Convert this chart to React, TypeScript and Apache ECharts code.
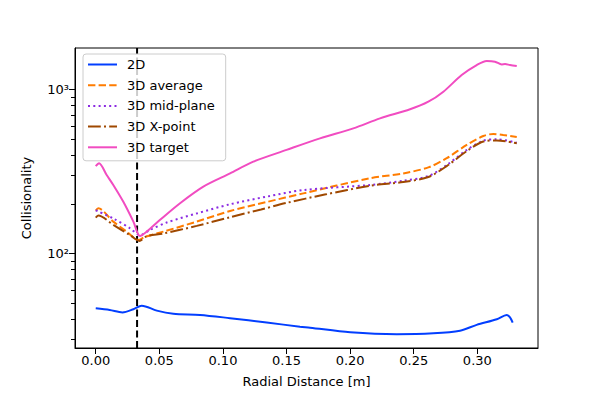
import React, { useEffect, useRef } from "react";
import * as echarts from "echarts";

// ---- data ----
const x2D = [0, 0.011, 0.021, 0.0296, 0.0362, 0.048, 0.061, 0.082, 0.1056, 0.1344, 0.1606, 0.1685, 0.2, 0.2366, 0.2654, 0.2864, 0.2995, 0.3153, 0.3231, 0.3257, 0.3278];
const y2D = [46.2, 45.1, 43.6, 45.6, 47.9, 44.7, 42.8, 42.1, 40.2, 37.8, 35.7, 35.2, 33.0, 32.1, 32.5, 33.7, 36.6, 39.6, 42.1, 40.7, 37.8];

const xAvg = [0, 0.002, 0.0138, 0.0244, 0.0335, 0.0388, 0.0531, 0.0794, 0.1056, 0.135, 0.1632, 0.2157, 0.2418, 0.2615, 0.2759, 0.2917, 0.3047, 0.3126, 0.3204, 0.331];
const yAvg = [182, 188, 156, 135.5, 120.5, 126, 135.5, 156, 181, 206, 232, 287, 307, 334, 380, 458, 519, 534, 526, 512];

const xMid = [0, 0.0138, 0.027, 0.0348, 0.0427, 0.0558, 0.0794, 0.1056, 0.135, 0.1632, 0.2157, 0.2418, 0.2615, 0.2759, 0.2917, 0.3047, 0.3153, 0.331];
const yMid = [183, 163, 142, 129, 139, 154, 175, 199, 222, 243, 261, 277, 296, 345, 427, 486, 496, 472];

const xXpt = [0, 0.002, 0.0138, 0.027, 0.0343, 0.04, 0.0531, 0.0794, 0.1056, 0.13, 0.15, 0.18, 0.2157, 0.2418, 0.2615, 0.2759, 0.2917, 0.3047, 0.3153, 0.331];
const yXpt = [165, 170, 149, 129, 119, 127, 132, 147, 166, 185, 203, 228, 258, 272, 292, 340, 420, 480, 488, 468];

const xTgt = [0, 0.0026, 0.0086, 0.0138, 0.0217, 0.0296, 0.0348, 0.04, 0.0506, 0.0663, 0.0846, 0.1056, 0.1239, 0.15, 0.1763, 0.2025, 0.2235, 0.2471, 0.2615, 0.2733, 0.2877, 0.2995, 0.3074, 0.3139, 0.3192, 0.3218, 0.3257, 0.331];
const yTgt = [340, 354, 300, 261, 206, 156, 127.5, 135.5, 160, 202, 255, 307, 362, 427, 502, 578, 665, 755, 840, 967, 1222, 1406, 1488, 1474, 1419, 1425, 1406, 1387];

const X_SEPARATRIX = 0.0325;

const X_TICKS = [0, 0.05, 0.1, 0.15, 0.2, 0.25, 0.3];
const Y_MAJOR = [100, 1000];
const Y_MINOR = [30, 40, 50, 60, 70, 80, 90, 200, 300, 400, 500, 600, 700, 800, 900];
const X_MIN = -0.0163;
const X_MAX = 0.3477;
const Y_MIN = 26.45;
const Y_MAX = 1786;

const NAMES = ["2D", "3D average", "3D mid-plane", "3D X-point", "3D target"];
const COLORS = ["#023eff", "#ff7c00", "#8b2be2", "#9f4800", "#f14cc1"];
const DASHES: any[] = ["solid", [7.4, 3.2], [2, 3.3], [12.8, 3.2, 2, 3.2], "solid"];

const FONT = "DejaVu Sans";
const L = (v: number) => Math.log10(v);
const SUP: Record<number, string> = { 2: "²", 3: "³" };

export default function App() {
  const ref = useRef<HTMLDivElement>(null);
  useEffect(() => {
    if (!ref.current) return;
    const chart = echarts.init(ref.current, undefined, { renderer: "svg" });
    const xs = [x2D, xAvg, xMid, xXpt, xTgt];
    const ys = [y2D, yAvg, yMid, yXpt, yTgt];
    const series: any[] = NAMES.map((name, i) => ({
      name,
      type: "line",
      symbol: "none",
      smooth: 0.3,
      data: xs[i].map((x, j) => [x, L(ys[i][j])]),
      lineStyle: { color: COLORS[i], width: 2, type: DASHES[i] },
      itemStyle: { color: COLORS[i] },
      z: 3,
    }));
    series.push({
      name: "separatrix",
      type: "line",
      symbol: "none",
      silent: true,
      data: [
        [X_SEPARATRIX, L(Y_MIN)],
        [X_SEPARATRIX, L(Y_MAX)],
      ],
      lineStyle: { color: "#000", width: 2, type: [7, 3.5] },
      z: 2,
    });
    chart.setOption({
      animation: false,
      textStyle: { fontFamily: FONT },
      grid: {
        left: 75,
        right: 60,
        top: 48,
        bottom: 47,
        show: true,
        borderColor: "#000",
        borderWidth: 1,
        backgroundColor: "transparent",
      },
      legend: {
        orient: "vertical",
        left: 83,
        top: 54,
        data: NAMES,
        itemWidth: 29,
        itemHeight: 14,
        itemGap: 7.7,
        padding: [4, 11, 7, 4],
        itemStyle: { opacity: 0 },
        backgroundColor: "rgba(255,255,255,0.8)",
        borderColor: "#cccccc",
        borderWidth: 1,
        borderRadius: 3,
        textStyle: { fontSize: 13, color: "#000", fontFamily: FONT, padding: [0, 0, 0, 5] },
      },
      xAxis: {
        type: "value",
        min: X_MIN,
        max: X_MAX,
        name: "Radial Distance [m]",
        nameLocation: "middle",
        nameGap: 27,
        nameTextStyle: { fontSize: 13, color: "#000", fontFamily: FONT },
        axisLine: { show: true, onZero: false, lineStyle: { color: "#000", width: 1 } },
        axisTick: { show: true, customValues: X_TICKS, length: 6, lineStyle: { color: "#000" } },
        axisLabel: {
          customValues: X_TICKS,
          formatter: (v: number) => v.toFixed(2),
          fontSize: 13,
          color: "#000",
          margin: 6,
          fontFamily: FONT,
        },
        splitLine: { show: false },
      },
      yAxis: {
        type: "value",
        min: L(Y_MIN),
        max: L(Y_MAX),
        name: "Collisionality",
        nameLocation: "middle",
        nameGap: 42,
        nameTextStyle: { fontSize: 13, color: "#000", fontFamily: FONT },
        axisLine: { show: true, onZero: false, lineStyle: { color: "#000", width: 1 } },
        axisTick: { show: true, customValues: Y_MAJOR.map(L), length: 6, lineStyle: { color: "#000" } },
        axisLabel: {
          customValues: Y_MAJOR.map(L),
          formatter: (v: number) => "10" + (SUP[Math.round(v)] || ""),
          fontSize: 13,
          color: "#000",
          margin: 6,
          fontFamily: FONT,
        },
        splitLine: { show: false },
      },
      series,
    });
    // minor ticks of the log axis, positioned through the chart's own scale
    const minorTicks = Y_MINOR.map((v) => {
      const p = chart.convertToPixel({ xAxisIndex: 0, yAxisIndex: 0 }, [X_MIN, L(v)]) as number[];
      const x0 = Math.round(p[0]);
      const y0 = Math.round(p[1]) + 0.5;
      return {
        type: "line",
        silent: true,
        z: 10,
        shape: { x1: x0 - 4, y1: y0, x2: x0, y2: y0 },
        style: { stroke: "#000", lineWidth: 1 },
      };
    });
    chart.setOption({ graphic: { elements: minorTicks } });
    return () => chart.dispose();
  }, []);
  return <div ref={ref} style={{ width: 598, height: 395, margin: -8 }} />;
}
